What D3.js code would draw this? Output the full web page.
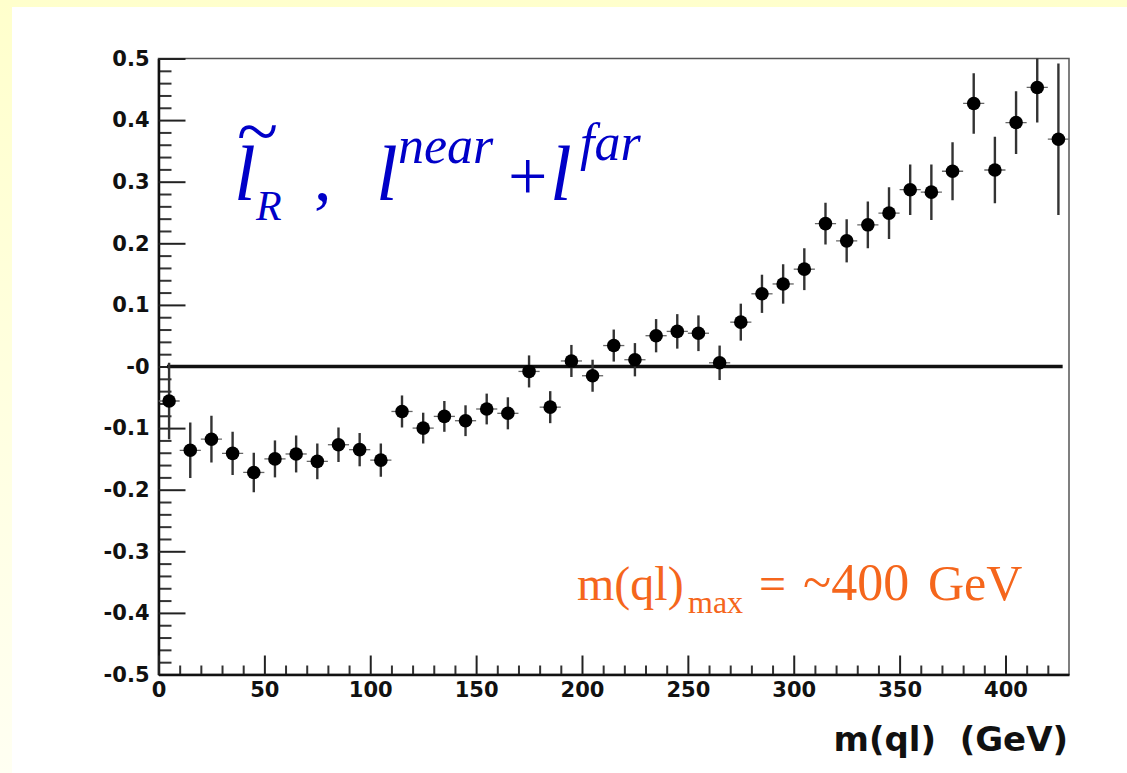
<!DOCTYPE html>
<html>
<head>
<meta charset="utf-8">
<script src="https://cdn.jsdelivr.net/npm/d3@7"></script>
<style>
    body { margin: 0; padding: 0; background: #ffffff; }
    svg { display: block; }
</style>
</head>
<body>
<div id="chart"></div>
<script>
// bin centres of m(ql) in GeV (10 GeV bins)
let binCenters = [5, 15, 25, 35, 45, 55, 65, 75, 85, 95, 105, 115, 125, 135, 145, 155, 165, 175,
    185, 195, 205, 215, 225, 235, 245, 255, 265, 275, 285, 295, 305, 315, 325, 335, 345, 355,
    365, 375, 385, 395, 405, 415, 425];
// asymmetry value per bin
let asymValues = [-0.056, -0.136, -0.118, -0.141, -0.172, -0.150, -0.142, -0.154, -0.127, -0.135,
    -0.152, -0.073, -0.100, -0.081, -0.088, -0.069, -0.076, -0.008, -0.066, 0.009, -0.015, 0.034,
    0.011, 0.050, 0.057, 0.054, 0.006, 0.072, 0.118, 0.134, 0.158, 0.232, 0.204, 0.230, 0.249,
    0.287, 0.283, 0.317, 0.427, 0.319, 0.396, 0.453, 0.369];
// statistical error per bin
let asymErrors = [0.062, 0.045, 0.038, 0.035, 0.032, 0.030, 0.030, 0.029, 0.028, 0.027, 0.027,
    0.026, 0.025, 0.025, 0.025, 0.025, 0.026, 0.026, 0.026, 0.026, 0.026, 0.026, 0.027, 0.027,
    0.028, 0.029, 0.028, 0.030, 0.031, 0.032, 0.034, 0.034, 0.035, 0.038, 0.042, 0.041, 0.045,
    0.047, 0.049, 0.054, 0.051, 0.057, 0.123];
let binHalfWidth = 5;

let xTickValues = [0, 50, 100, 150, 200, 250, 300, 350, 400];
let xTickLabels = ["0", "50", "100", "150", "200", "250", "300", "350", "400"];
let xMinorValues = [10, 20, 30, 40, 60, 70, 80, 90, 110, 120, 130, 140, 160, 170, 180, 190,
    210, 220, 230, 240, 260, 270, 280, 290, 310, 320, 330, 340, 360, 370, 380, 390, 410, 420];
let yTickValues = [0.5, 0.4, 0.3, 0.2, 0.1, 0, -0.1, -0.2, -0.3, -0.4, -0.5];
let yTickLabels = ["0.5", "0.4", "0.3", "0.2", "0.1", "-0", "-0.1", "-0.2", "-0.3", "-0.4", "-0.5"];
let yMinorValues = [0.48, 0.46, 0.44, 0.42, 0.38, 0.36, 0.34, 0.32, 0.28, 0.26, 0.24, 0.22,
    0.18, 0.16, 0.14, 0.12, 0.08, 0.06, 0.04, 0.02, -0.02, -0.04, -0.06, -0.08, -0.12, -0.14,
    -0.16, -0.18, -0.22, -0.24, -0.26, -0.28, -0.32, -0.34, -0.36, -0.38, -0.42, -0.44, -0.46, -0.48];
// the flat reference line at zero
let refLineX = [4, 427];
let refLineY = 0;

let xDomain = [0, 430];
let yDomain = [-0.5, 0.5];

let W = 1127, H = 773;
let margin = {top: 58.5, right: 58, bottom: 98.5, left: 158.5},
    width = W - margin.left - margin.right,
    height = H - margin.top - margin.bottom;

let svg = d3.select("#chart").append("svg")
    .attr("width", W)
    .attr("height", H);

// pale yellow slide background, fading downwards
let grad = svg.append("defs").append("linearGradient")
    .attr("id", "bgGrad").attr("x1", 0).attr("y1", 0).attr("x2", 0).attr("y2", 1);
grad.append("stop").attr("offset", "0%").attr("stop-color", "#ffffcc");
grad.append("stop").attr("offset", "100%").attr("stop-color", "#fffff2");
svg.append("rect").attr("width", W).attr("height", H).attr("fill", "url(#bgGrad)");
svg.append("rect").attr("x", 12).attr("y", 7).attr("width", W - 12).attr("height", H - 7)
    .attr("fill", "#ffffff");

let g = svg.append("g")
    .attr("transform", "translate(" + margin.left + "," + margin.top + ")");

let x = d3.scaleLinear().domain(xDomain).range([0, width]);
let y = d3.scaleLinear().domain(yDomain).range([height, 0]);

// frame (top and right sides are thinner and grey)
g.append("rect")
    .attr("width", width).attr("height", height)
    .attr("fill", "none").attr("stroke", "#555").attr("stroke-width", 1.5);

let tickFont = "'DejaVu Sans', Verdana, sans-serif";

// minor ticks
g.append("g")
    .attr("class", "minor")
    .call(d3.axisLeft(y).tickValues(yMinorValues).tickSize(-13).tickFormat(""));
g.append("g")
    .attr("class", "minor")
    .attr("transform", "translate(0," + height + ")")
    .call(d3.axisBottom(x).tickValues(xMinorValues).tickSize(-9).tickFormat(""));
g.selectAll(".minor .domain").remove();
g.selectAll(".minor line").attr("stroke", "#333").attr("stroke-width", 2);

// major ticks + labels
let yAx = g.append("g")
    .call(d3.axisLeft(y).tickValues(yTickValues).tickSizeInner(-27).tickSizeOuter(0).tickPadding(9)
        .tickFormat(function (d, i) { return yTickLabels[i]; }));
let xAx = g.append("g")
    .attr("transform", "translate(0," + height + ")")
    .call(d3.axisBottom(x).tickValues(xTickValues).tickSizeInner(-19).tickSizeOuter(0).tickPadding(8)
        .tickFormat(function (d, i) { return xTickLabels[i]; }));
[yAx, xAx].forEach(function (a) {
    a.select(".domain").attr("stroke", "#111").attr("stroke-width", 2.5);
    a.selectAll(".tick line").attr("stroke", "#222").attr("stroke-width", 2);
    a.selectAll(".tick text")
        .attr("fill", "#111")
        .style("font-family", tickFont)
        .style("font-weight", "bold")
        .style("font-size", "21px");
});

// zero reference line
g.append("line")
    .attr("x1", x(refLineX[0])).attr("x2", x(refLineX[1]))
    .attr("y1", y(refLineY)).attr("y2", y(refLineY))
    .attr("stroke", "#111").attr("stroke-width", 3.5);

let points = binCenters.map(function (c, i) {
    return {x: c, v: asymValues[i], e: asymErrors[i]};
});

svg.append("clipPath").attr("id", "plotClip").append("rect")
    .attr("width", width).attr("height", height);
let pg = g.append("g").attr("clip-path", "url(#plotClip)");

// vertical error bars
pg.selectAll(".ebar").data(points).enter().append("line")
    .attr("class", "ebar")
    .attr("x1", function (d) { return x(d.x); })
    .attr("x2", function (d) { return x(d.x); })
    .attr("y1", function (d) { return y(d.v - d.e); })
    .attr("y2", function (d) { return y(d.v + d.e); })
    .attr("stroke", "#333").attr("stroke-width", 2.4);
// bin width bars
pg.selectAll(".xbar").data(points).enter().append("line")
    .attr("class", "xbar")
    .attr("x1", function (d) { return x(d.x - binHalfWidth); })
    .attr("x2", function (d) { return x(d.x + binHalfWidth); })
    .attr("y1", function (d) { return y(d.v); })
    .attr("y2", function (d) { return y(d.v); })
    .attr("stroke", "#666").attr("stroke-width", 1.3);
// markers
pg.selectAll(".dot").data(points).enter().append("circle")
    .attr("class", "dot")
    .attr("cx", function (d) { return x(d.x); })
    .attr("cy", function (d) { return y(d.v); })
    .attr("r", 6.8)
    .attr("fill", "#000");

// x axis title
svg.append("text")
    .attr("x", 1068).attr("y", 751)
    .attr("text-anchor", "end")
    .attr("xml:space", "preserve")
    .style("font-family", tickFont)
    .style("font-weight", "bold")
    .style("font-size", "34px")
    .attr("fill", "#111")
    .text("m(ql)  (GeV)");

// blue formula label
let serif = "'Liberation Serif', 'Times New Roman', Times, serif";
let blue = "#0000c8";
let formula = svg.append("g").attr("fill", blue).style("font-family", serif);
function piece(parent, txt, px, py, size, italic) {
    parent.append("text")
        .attr("x", px).attr("y", py)
        .style("font-size", size + "px")
        .style("font-style", italic ? "italic" : "normal")
        .text(txt);
}
piece(formula, "~", 237, 157, 76, false);
piece(formula, "l", 234, 200, 78, true);
piece(formula, "R", 256, 220, 42, true);
piece(formula, ",", 314, 200, 70, false);
piece(formula, "l", 376, 200, 78, true);
piece(formula, "near", 398, 163, 52, true);
piece(formula, "+", 508, 200, 70, false);
piece(formula, "l", 550, 200, 78, true);
piece(formula, "far", 580, 160, 52, true);

// orange annotation
let orange = "#f5661c";
let note = svg.append("g").attr("fill", orange).style("font-family", serif);
piece(note, "m(ql)", 577, 600, 48, false);
piece(note, "max", 688, 613, 32, false);
piece(note, "=", 759, 600, 48, false);
piece(note, "~400", 803, 600, 52, false);
piece(note, "GeV", 928, 600, 50, false);
</script>
</body>
</html>
